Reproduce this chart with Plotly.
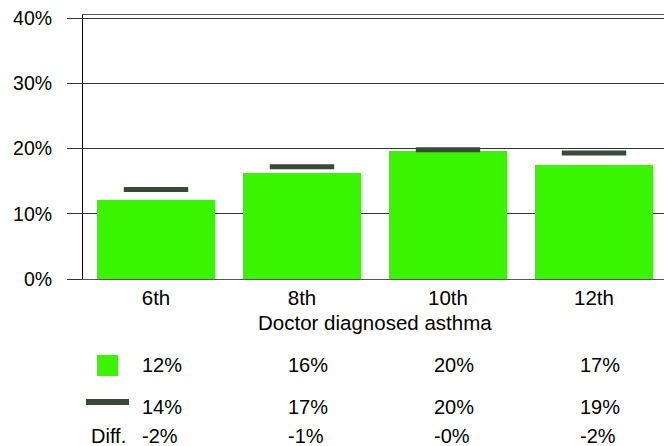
import plotly.graph_objects as go

# Doctor diagnosed asthma by grade: local estimate (bars) vs comparison (dashes)
grades = ["6th", "8th", "10th", "12th"]
local_pct = [12.1, 16.2, 19.6, 17.4]
comparison_pct = [13.7, 17.2, 19.8, 19.3]
y_ticks = [0, 10, 20, 30, 40]
y_tick_labels = ["0%", "10%", "20%", "30%", "40%"]
x_title = "Doctor diagnosed asthma"

GREEN = "#3af500"
DARK = "#364a36"
FAMILY = "Arial, Liberation Sans, sans-serif"
FONT = dict(family=FAMILY, size=19.5, color="#000000")
CAT_FONT = dict(family=FAMILY, size=20.5, color="#000000")
TABLE_FONT = dict(family=FAMILY, size=20, color="#000000")

W, H = 664, 446
L, T, B = 83, 15, 167
plot_w = W - L
plot_h = H - T - B
cat_px = 146.0

fig = go.Figure()

fig.add_trace(go.Bar(
    x=list(range(len(grades))), y=local_pct,
    width=0.81, marker=dict(color=GREEN, line=dict(width=0)),
    hoverinfo="skip", showlegend=False,
))

fig.add_trace(go.Scatter(
    x=list(range(len(grades))), y=comparison_pct, mode="markers",
    marker=dict(symbol="line-ew", size=46, line=dict(width=5, color=DARK)),
    hoverinfo="skip", showlegend=False, cliponaxis=False,
))

# summary table below the chart
def px_to_paper_y(py):
    return (H - B - py) / plot_h

rows = [
    ([f"{v:.0f}%" for v in local_pct], 365),
    ([f"{v:.0f}%" for v in comparison_pct], 407),
    ([f"{a - b:.0f}%" for a, b in zip(local_pct, comparison_pct)], 436),
]
annotations = []
for texts, py in rows:
    for i, t in enumerate(texts):
        annotations.append(dict(
            x=i - 16 / cat_px, y=px_to_paper_y(py), xref="x", yref="paper",
            text=t, showarrow=False, xanchor="left", yanchor="middle", font=TABLE_FONT,
        ))
annotations.append(dict(
    x=(89 - L) / plot_w, y=px_to_paper_y(436), xref="paper", yref="paper",
    text="Diff.", showarrow=False, xanchor="left", yanchor="middle", font=TABLE_FONT,
))
annotations.append(dict(
    x=0.5 * cat_px * len(grades) / plot_w, y=px_to_paper_y(322), xref="paper", yref="paper",
    text=x_title, showarrow=False, xanchor="center", yanchor="middle", font=CAT_FONT,
))

def px_x(p):
    return (p - L) / plot_w

shapes = [
    # legend key: bar
    dict(type="rect", xref="paper", yref="paper",
         x0=px_x(97), x1=px_x(118), y0=px_to_paper_y(376), y1=px_to_paper_y(355),
         fillcolor=GREEN, line=dict(width=0)),
    # legend key: comparison dash
    dict(type="rect", xref="paper", yref="paper",
         x0=px_x(86), x1=px_x(129), y0=px_to_paper_y(405), y1=px_to_paper_y(399),
         fillcolor=DARK, line=dict(width=0)),
]

fig.update_layout(
    width=W, height=H,
    margin=dict(l=L, r=0, t=T, b=B, pad=0),
    paper_bgcolor="white", plot_bgcolor="white",
    font=FONT, bargap=0,
    annotations=annotations, shapes=shapes,
    xaxis=dict(
        range=[-0.5, -0.5 + plot_w / cat_px],
        tickmode="array", tickvals=list(range(len(grades))), ticktext=grades,
        showgrid=False, zeroline=False, ticks="", tickfont=CAT_FONT,
        showline=True, linecolor="#555555", linewidth=1, mirror=True,
    ),
    yaxis=dict(
        range=[0, 40 * plot_h / 261],
        tickmode="array", tickvals=y_ticks, ticktext=y_tick_labels,
        showgrid=True, gridcolor="#333333", gridwidth=1, zeroline=False,
        ticks="outside", ticklen=15, tickcolor="#333333", tickwidth=1,
        ticklabelstandoff=11, tickfont=FONT,
        showline=True, linecolor="#000000", linewidth=1, mirror=True,
    ),
)

fig.write_html("out.html")
